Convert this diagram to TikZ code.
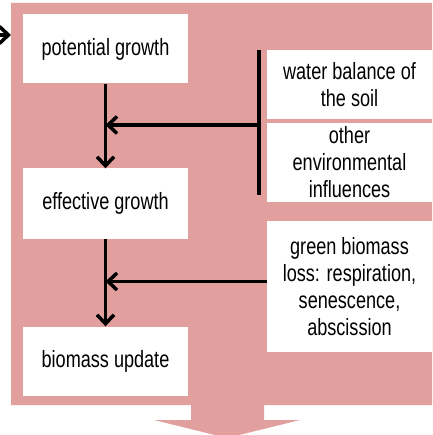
\documentclass[tikz,border=0pt]{standalone}
\usepackage{fontspec}
\setmainfont{Liberation Sans}[FakeStretch=0.77]
\usetikzlibrary{arrows.meta}
\definecolor{rose}{RGB}{225,160,158}
\tikzstyle{box} = [fill=white, minimum width=165pt, inner sep=0pt, align=center, font=\fontsize{23.5}{27}\selectfont]
\tikzstyle{flow} = [line width=3.5pt, -{Straight Barb[length=9pt,width=17pt]}]

\begin{document}
\begin{tikzpicture}[x=1pt,y=-1pt]
\useasboundingbox (0,0) rectangle (432,435);
\clip (0,0) rectangle (432,435);

% panel with the outflow arrow below it
\fill[rose] (11,3) -- (440,3) -- (440,405) -- (264,405) -- (264,420) -- (300,420)
    -- (227,438) -- (154,420) -- (191,420) -- (191,405) -- (11,405) -- cycle;

\node[box, minimum height=69pt] (pot) at (105.5,49) {potential growth};
\node[box, minimum height=70pt] (eff) at (105.5,203.5) {effective growth};
\node[box, minimum height=69pt] (upd) at (105.5,361) {biomass update};

\node[box, minimum height=69pt] (water) at (349.5,84.5) {water balance of\\the soil};
\node[box, minimum height=79pt] (other) at (349.5,162.5) {other\\environmental\\influences};
\node[box, minimum height=131pt] (loss) at (349.5,286.5) {green biomass\\loss: respiration,\\senescence,\\abscission};

\coordinate (feed) at (-25,35);
\coordinate (panelw) at (11,35);
\coordinate (bartop) at (259,50);
\coordinate (barbot) at (259,195);
\coordinate (envin) at (259,125);

    \draw[flow] (feed) -- (panelw);
    \draw[line width=3.5pt] (bartop) -- (barbot);
    \draw[flow] (envin) -- (envin -| pot.south);
    \draw[flow] (pot) -- (eff);
    \draw[flow] (eff) -- (upd);
    \draw[flow] ([yshift=5pt]loss.west) -- ([yshift=5pt]loss.west -| eff.south);
\end{tikzpicture}
\end{document}
